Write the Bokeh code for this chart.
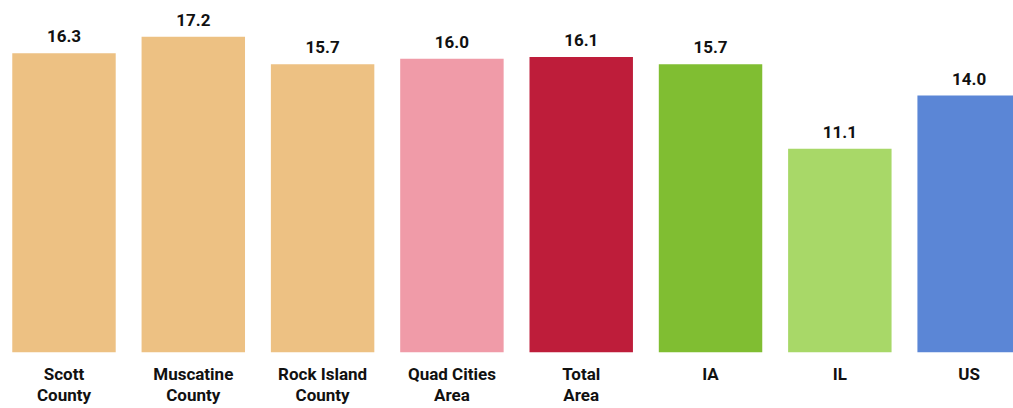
from bokeh.plotting import figure
from bokeh.models import ColumnDataSource, FixedTicker, Range1d
from bokeh.core.properties import value
from bokeh.embed import file_html
from bokeh.resources import INLINE

categories = ["Scott\nCounty", "Muscatine\nCounty", "Rock Island\nCounty", "Quad Cities\nArea",
              "Total\nArea", "IA", "IL", "US"]
values = [16.3, 17.2, 15.7, 16.0, 16.1, 15.7, 11.1, 14.0]
colors = ["#EDC183", "#EDC183", "#EDC183", "#F09BA8", "#BE1D3A", "#80BE32", "#A8D868", "#5B86D6"]

FONT = "Roboto"

xs = list(range(len(categories)))
src = ColumnDataSource(dict(x=xs, top=values, color=colors,
                            label=[f"{v:.1f}" for v in values]))

p = figure(width=1013, height=408, output_backend="svg", toolbar_location=None,
           x_range=Range1d(-0.491, 7.343), y_range=Range1d(0, 19.18),
           min_border_left=0, min_border_right=0, min_border_top=0, min_border_bottom=54)

p.vbar(x="x", top="top", bottom=0, width=0.8, color="color", line_color=None, source=src)
p.text(x="x", y="top", text="label", source=src, text_align="center",
       text_baseline="alphabetic", y_offset=-17, text_font=value(FONT),
       text_font_style="bold", text_font_size="17px", text_color="#111111")

p.yaxis.visible = False
p.xaxis.ticker = FixedTicker(ticks=xs)
p.xaxis.major_label_overrides = {i: c for i, c in zip(xs, categories)}
p.xaxis.axis_line_color = None
p.xaxis.major_tick_line_color = None
p.xaxis.minor_tick_line_color = None
p.xaxis.major_tick_out = 0
p.xaxis.major_tick_in = 0
p.xaxis.major_label_standoff = 11
p.xaxis.major_label_text_font = FONT
p.xaxis.major_label_text_font_style = "bold"
p.xaxis.major_label_text_font_size = "17px"
p.xaxis.major_label_text_color = "#111111"
p.xaxis.major_label_text_line_height = 1.08

p.xgrid.visible = False
p.ygrid.visible = False
p.outline_line_color = None
p.background_fill_color = "white"
p.border_fill_color = "white"

open("out.html", "w").write(file_html(p, INLINE))
